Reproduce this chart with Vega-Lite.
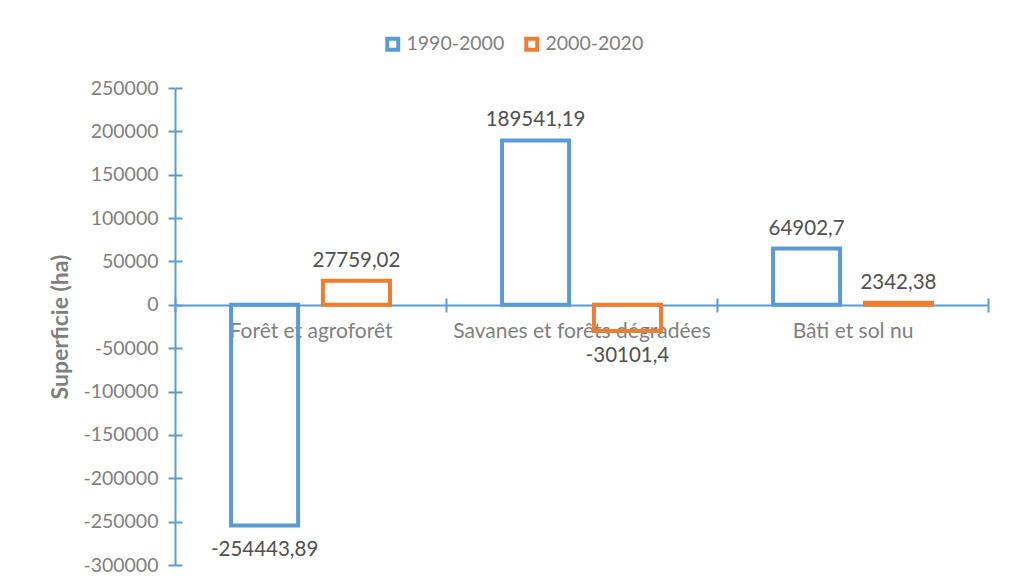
{
  "$schema": "https://vega.github.io/schema/vega-lite/v6.json",
  "width": 813,
  "height": 477,
  "autosize": {"type": "none"},
  "padding": {"left": 175, "top": 88, "right": 23, "bottom": 20},
  "background": "white",
  "config": {
    "view": {"stroke": null},
    "font": "Lato",
    "locale": {
      "number": {"decimal": ",", "thousands": "", "grouping": [3], "currency": ["", ""], "minus": "-"}
    },
    "axis": {
      "domainColor": "#5B9BD5",
      "domainWidth": 2,
      "tickColor": "#5B9BD5",
      "tickWidth": 2,
      "grid": false,
      "labelFont": "Lato",
      "labelFontSize": 19.5,
      "labelColor": "#7f7f7f",
      "labelLimit": 0
    }
  },
  "datasets": {
    "superficies": [
      {"classe": "Forêt et agroforêt", "periode": "1990-2000", "superficie": -254443.89},
      {"classe": "Forêt et agroforêt", "periode": "2000-2020", "superficie": 27759.02},
      {"classe": "Savanes et forêts dégradées", "periode": "1990-2000", "superficie": 189541.19},
      {"classe": "Savanes et forêts dégradées", "periode": "2000-2020", "superficie": -30101.4},
      {"classe": "Bâti et sol nu", "periode": "1990-2000", "superficie": 64902.7},
      {"classe": "Bâti et sol nu", "periode": "2000-2020", "superficie": 2342.38}
    ]
  },
  "data": {"name": "superficies"},
  "resolve": {"axis": {"x": "independent", "y": "independent"}},
  "layer": [
    {
      "mark": {"type": "bar", "fill": "transparent", "strokeWidth": 4},
      "encoding": {
        "x": {
          "field": "classe", "type": "nominal", "sort": null,
          "scale": {"paddingInner": 0, "paddingOuter": 0},
          "axis": {
            "orient": "bottom", "offset": -260, "title": null,
            "tickBand": "extent", "tickSize": 7, "labelAngle": 0,
            "labelPadding": 8, "labelFontSize": 21, "labelColor": "#7f7f7f"
          }
        },
        "xOffset": {
          "field": "periode", "type": "nominal",
          "scale": {"paddingInner": 0.27, "paddingOuter": 0.61}
        },
        "y": {
          "field": "superficie", "type": "quantitative",
          "scale": {"domain": [-300000, 250000], "nice": false, "zero": false},
          "axis": {
            "orient": "left", "values": [-300000, -250000, -200000, -150000, -100000, -50000, 0, 50000, 100000, 150000, 200000, 250000],
            "format": "d", "tickSize": 7, "labelPadding": 10,
            "title": "Superficie (ha)", "titleFont": "Lato", "titleFontSize": 23,
            "titleFontWeight": "bold", "titleColor": "#7f7f7f", "titlePadding": 10
          }
        },
        "stroke": {
          "field": "periode", "type": "nominal",
          "scale": {"domain": ["1990-2000", "2000-2020"], "range": ["#5B9BD5", "#ED7D31"]},
          "legend": {
            "orient": "none", "legendX": 208, "legendY": -54, "direction": "horizontal",
            "title": null, "padding": 0, "symbolType": "square", "symbolSize": 121,
            "symbolStrokeWidth": 4, "symbolFillColor": "white",
            "labelFont": "Lato", "labelFontSize": 19.5, "labelColor": "#7f7f7f",
            "labelOffset": 4, "columnPadding": 13
          }
        }
      }
    },
    {
      "transform": [{"filter": "datum.superficie >= 0"}],
      "mark": {"type": "text", "baseline": "alphabetic", "dy": -14, "fontSize": 20.5, "fill": "#505050"},
      "encoding": {
        "x": {
          "field": "classe", "type": "nominal", "sort": null,
          "axis": {
            "orient": "top", "offset": -217, "title": null, "labels": false,
            "domain": false, "tickBand": "extent", "tickSize": 7
          }
        },
        "xOffset": {"field": "periode", "type": "nominal"},
        "y": {
          "field": "superficie", "type": "quantitative",
          "axis": {
            "orient": "left", "values": [-300000, -250000, -200000, -150000, -100000, -50000, 0, 50000, 100000, 150000, 200000, 250000],
            "labels": false, "domain": false, "title": null, "tickSize": -7
          }
        },
        "text": {"field": "superficie", "type": "quantitative", "format": ".2~f"}
      }
    },
    {
      "transform": [{"filter": "datum.superficie < 0"}],
      "mark": {"type": "text", "baseline": "alphabetic", "dy": 31, "fontSize": 20.5, "fill": "#505050"},
      "encoding": {
        "x": {"field": "classe", "type": "nominal", "sort": null, "axis": null},
        "xOffset": {"field": "periode", "type": "nominal"},
        "y": {"field": "superficie", "type": "quantitative", "axis": null},
        "text": {"field": "superficie", "type": "quantitative", "format": ".2~f"}
      }
    }
  ]
}
